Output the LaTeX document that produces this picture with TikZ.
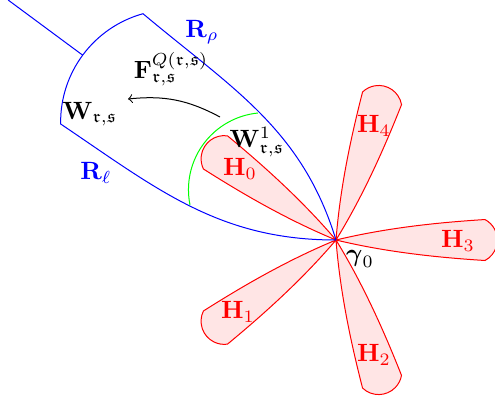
\documentclass[tikz,border=0pt]{standalone}
\usepackage{amsmath,amssymb}
\usetikzlibrary{arrows,calc}
\tikzset{
  petalstyle/.style={draw=red, fill=red!10},
  bluebd/.style={draw=blue},
  lab/.style={inner sep=0pt},
}
\newcommand\mypetal[1]{%
  \begin{scope}[shift={(336,163)}, rotate=#1]
    \path[petalstyle] (0,0) .. controls (50,-12) and (100,-17.4) .. (149,-20.5)
      arc[start angle=-62, end angle=62, radius=23.2]
      .. controls (100,17.4) and (50,12) .. (0,0) -- cycle;
  \end{scope}}
\begin{document}
\begin{tikzpicture}[x=0.4pt,y=0.4pt]
\useasboundingbox (0,0) rectangle (495,403);
% petals
\mypetal{0}
\mypetal{72}
\mypetal{144}
\mypetal{216}
\mypetal{288}
% named points
\coordinate (O) at (336,163);
\coordinate (C1) at (173,281);
\coordinate (A) at (143,389.3);
\coordinate (B) at (60.6,279);
\coordinate (L1) at ($(C1)+(143.5:112.4)$);
\coordinate (L2) at ($(C1)+(143.5:205)$);
% blue region
\draw[bluebd] (O) to[out=107,in=-40] (A)
  arc[start angle=105.5, end angle=181, radius=112.4]
  to[out=-34,in=180] (O);
\draw[bluebd] (L1) -- (L2);
% green arc
\draw[green] (190,198) arc[start angle=191.5, end angle=95.6, radius=77];
% arrow
\coordinate (ar1) at (220,286);
\coordinate (ar2) at (128,304);
\draw[->] (ar1) to[bend right=17] (ar2);
% labels
\node[lab, text=blue] (rr) at (202,371) {$\mathbf{R}_\rho$};
\node[lab, text=blue] (rl) at (96,230) {$\mathbf{R}_\ell$};
\node[lab] (F) at (171,334) {$\mathbf{F}_{\mathfrak{r},\mathfrak{s}}^{Q(\mathfrak{r},\mathfrak{s})}$};
\node[lab] (W) at (90,289) {$\mathbf{W}_{\mathfrak{r},\mathfrak{s}}$};
\node[lab] (W1) at (257,261) {$\mathbf{W}_{\mathfrak{r},\mathfrak{s}}^{1}$};
\node[lab] (g0) at (360,144) {$\boldsymbol{\gamma}_0$};
\node[lab, text=red] (h0) at (240,234) {$\mathbf{H}_0$};
\node[lab, text=red] (h1) at (238,91) {$\mathbf{H}_1$};
\node[lab, text=red] (h2) at (374,48) {$\mathbf{H}_2$};
\node[lab, text=red] (h3) at (458,162) {$\mathbf{H}_3$};
\node[lab, text=red] (h4) at (374,277) {$\mathbf{H}_4$};
\end{tikzpicture}
\end{document}
